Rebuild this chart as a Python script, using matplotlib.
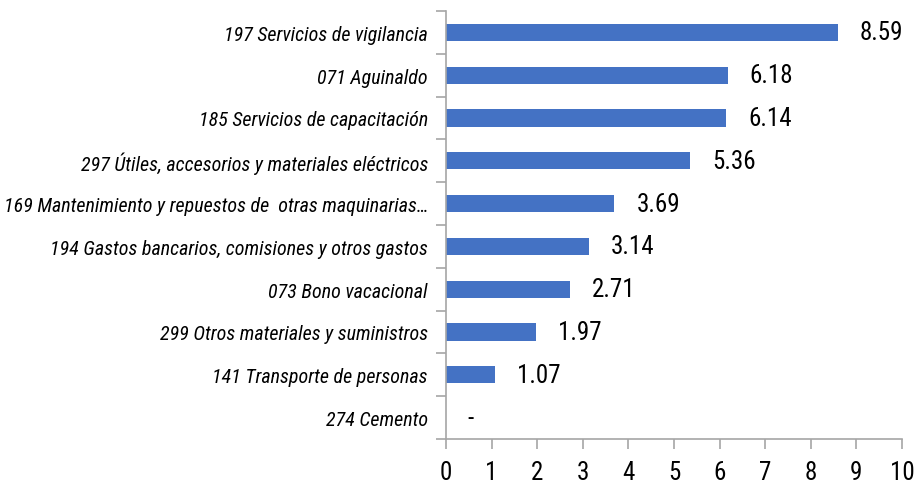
import matplotlib
matplotlib.use("Agg")
import matplotlib.pyplot as plt
from matplotlib import font_manager

categories = [
    "197 Servicios de vigilancia",
    "071 Aguinaldo",
    "185 Servicios de capacitación",
    "297 Útiles, accesorios y materiales eléctricos",
    "169 Mantenimiento y repuestos de  otras maquinarias…",
    "194 Gastos bancarios, comisiones y otros gastos",
    "073 Bono vacacional",
    "299 Otros materiales y suministros",
    "141 Transporte de personas",
    "274 Cemento",
]
values = [8.59, 6.18, 6.14, 5.36, 3.69, 3.14, 2.71, 1.97, 1.07, 0.0]
value_labels = ["8.59", "6.18", "6.14", "5.36", "3.69", "3.14", "2.71", "1.97", "1.07", "-"]
xticks = list(range(0, 11))

fam = ["Roboto Condensed", "Archivo Narrow", "Liberation Sans", "DejaVu Sans"]

fig = plt.figure(figsize=(9.17, 4.85), dpi=100)
ax = fig.add_axes([446/917, 1-440/485, (902-446)/917, (440-12)/485])

n = len(categories)
ypos = list(range(n))
ax.barh(ypos, values, height=0.4, color="#4472C4")
ax.set_ylim(n - 0.5, -0.5)
ax.set_xlim(0, 10)

for y, v, lab in zip(ypos, values, value_labels):
    ax.annotate(lab, xy=(v, y), xytext=(22 if v > 0 else 21, 0), textcoords="offset pixels",
                ha="left", va="center", fontsize=18, family=fam, color="black")

ax.set_yticks(ypos)
ax.set_yticklabels(categories, fontsize=14.4, style="italic", family=fam)
ax.tick_params(axis="y", length=0, pad=13)
ax.set_yticks([i - 0.5 for i in range(n + 1)], minor=True)
ax.tick_params(axis="y", which="minor", length=7, color="#A6A6A6", width=1.2)

ax.set_xticks(xticks)
ax.set_xticklabels([str(t) for t in xticks], fontsize=18, family=fam)
ax.tick_params(axis="x", length=7, color="#A6A6A6", width=1.2, pad=8)

for s in ["top", "right"]:
    ax.spines[s].set_visible(False)
for s in ["left", "bottom"]:
    ax.spines[s].set_color("#A6A6A6")
    ax.spines[s].set_linewidth(1.2)
ax.patch.set_alpha(0)

fig.savefig("out.png", dpi=100)
